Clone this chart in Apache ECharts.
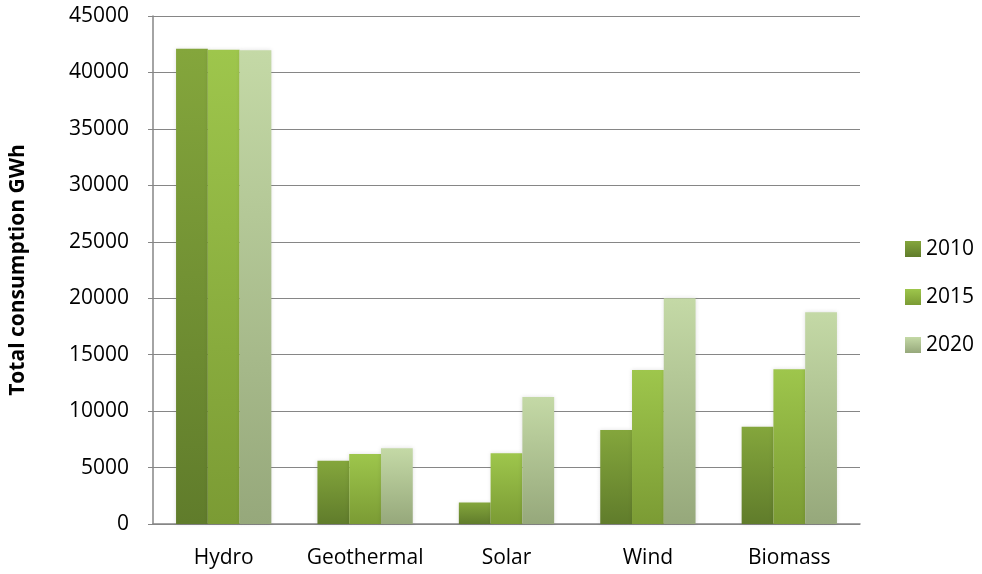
<!DOCTYPE html>
<html>
<head>
<meta charset="utf-8">
<script src="https://cdn.jsdelivr.net/npm/echarts@6/dist/echarts.min.js"></script>
<style>
  html, body { margin: 0; padding: 0; background: #ffffff; }
  #chart { width: 982px; height: 574px; }
</style>
</head>
<body>
<div id="chart"></div>
<script>
// Renewable energy sources and consumption per year (GWh)
const categories = ['Hydro', 'Geothermal', 'Solar', 'Wind', 'Biomass'];
const years = ['2010', '2015', '2020'];
const values2010 = [42100, 5600, 1900, 8330, 8620];
const values2015 = [42020, 6200, 6260, 13640, 13700];
const values2020 = [41960, 6700, 11250, 19990, 18750];

// Top/bottom colours of each series' vertical gradient
const gradients = [
  ['#84a63c', '#607c2b'],
  ['#9ec64c', '#7b9b34'],
  ['#c4d9a6', '#96a87b']
];

function grad(pair) {
  return new echarts.graphic.LinearGradient(0, 0, 0, 1, [
    { offset: 0, color: pair[0] },
    { offset: 1, color: pair[1] }
  ]);
}

const seriesValues = [values2010, values2015, values2020];
const FONT = 'Open Sans';
const FS = 21;

const chart = echarts.init(document.getElementById('chart'), null, { renderer: 'canvas' });
chart.setOption({
  animation: false,
  backgroundColor: '#ffffff',
  grid: { left: 148, right: 122, top: 16, bottom: 50, containLabel: false },
  legend: {
    orient: 'vertical',
    left: 900,
    top: 233,
    itemWidth: 16,
    itemHeight: 16,
    itemGap: 26,
    icon: 'rect',
    textStyle: { fontFamily: FONT, fontSize: FS, lineHeight: 22, color: '#000000' },
    data: years
  },
  xAxis: {
    type: 'category',
    data: categories,
    axisLine: { show: true, lineStyle: { color: '#868686', width: 1.5 } },
    axisTick: { show: false },
    axisLabel: { fontFamily: FONT, fontSize: FS, color: '#000000', margin: 24, interval: 0 }
  },
  yAxis: {
    type: 'value',
    min: 0,
    max: 45000,
    interval: 5000,
    name: 'Total consumption GWh',
    nameLocation: 'middle',
    nameGap: 124,
    nameRotate: 90,
    nameTextStyle: { fontFamily: FONT, fontSize: 21, fontWeight: 'bold', color: '#000000' },
    axisLine: { show: true, lineStyle: { color: '#868686', width: 1.5 } },
    axisTick: { show: true, length: 5, lineStyle: { color: '#868686' } },
    axisLabel: {
      fontFamily: FONT, fontSize: FS, color: '#000000', margin: 24,
      formatter: v => String(v)
    },
    splitLine: { show: true, lineStyle: { color: '#868686', width: 1.2 } }
  },
  series: years.map((y, i) => ({
    name: y,
    type: 'bar',
    data: seriesValues[i],
    barGap: '0%',
    barCategoryGap: '32.6%',
    itemStyle: {
      color: grad(gradients[i]),
      shadowColor: 'rgba(0,0,0,0.12)',
      shadowBlur: 4
    }
  }))
});
</script>
</body>
</html>
